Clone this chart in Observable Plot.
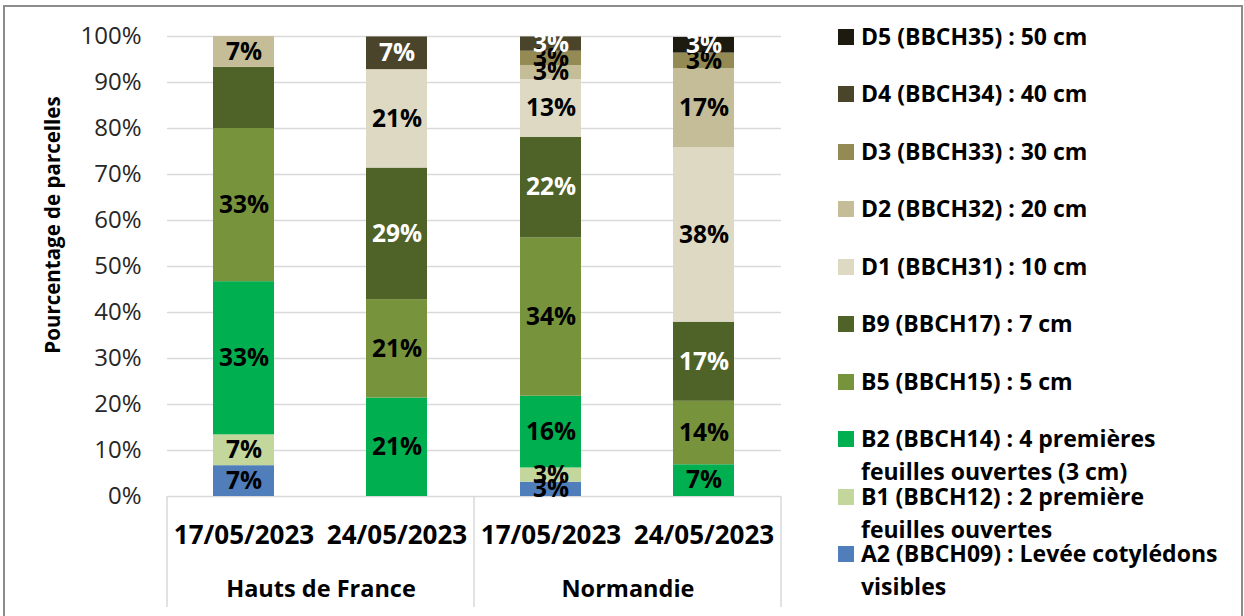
<!DOCTYPE html>
<html>
<head>
<meta charset="utf-8">
<script src="https://cdn.jsdelivr.net/npm/d3@7"></script>
<script src="https://cdn.jsdelivr.net/npm/@observablehq/plot@0.6"></script>
<style>
  html, body { margin: 0; padding: 0; background: #fff; overflow: hidden; }
  #wrap { position: relative; width: 1244px; height: 616px; font-family: "Open Sans", sans-serif; }
  #border { position: absolute; left: 3px; top: 5px; width: 1240px; height: 660px; border: 2px solid #8c8c8c; box-sizing: border-box; }
  #chart { position: absolute; left: 0; top: 0; }
  #ytitle { position: absolute; left: 52px; top: 225px; transform: translate(-50%, -50%) rotate(-90deg); white-space: nowrap; font-weight: bold; font-size: 20.5px; color: #000; }
  .item { position: absolute; left: 838px; line-height: 33px; font-weight: bold; font-size: 23px; color: #000; }
  .sw { position: absolute; left: 0; top: 9px; width: 16px; height: 16px; }
  .lab { position: absolute; left: 23px; top: 0; width: 364px; }
</style>
</head>
<body>
<div id="wrap">
  <div id="border"></div>
  <div id="chart"></div>
  <div id="ytitle"></div>
  <div id="legend"></div>
</div>
<script>
// ---- data ----
const regions = ["Hauts de France", "Hauts de France", "Normandie", "Normandie"];
const dates = ["17/05/2023", "24/05/2023", "17/05/2023", "24/05/2023"];
const regionOrder = ["Hauts de France", "Normandie"];
const dateOrder = ["17/05/2023", "24/05/2023"];

// stages, bottom to top
const stages = [
  "A2 (BBCH09) : Levée cotylédons visibles",
  "B1 (BBCH12) : 2 première feuilles ouvertes",
  "B2 (BBCH14) : 4 premières feuilles ouvertes (3 cm)",
  "B5 (BBCH15) : 5 cm",
  "B9 (BBCH17) : 7 cm",
  "D1 (BBCH31) : 10 cm",
  "D2 (BBCH32) : 20 cm",
  "D3 (BBCH33) : 30 cm",
  "D4 (BBCH34) : 40 cm",
  "D5 (BBCH35) : 50 cm"
];
const colors = ["#4f7ebb", "#c3d69b", "#00b050", "#77933c", "#4f6228", "#ddd9c3", "#c4bd97", "#948a54", "#4a452a", "#1d1b10"];
const whiteLabelStages = ["B9 (BBCH17) : 7 cm", "D4 (BBCH34) : 40 cm", "D5 (BBCH35) : 50 cm"];

// values (% of plots) per bar: HdF 17/05, HdF 24/05, Normandie 17/05, Normandie 24/05
const a2 = [6.7, 0, 3.1, 0];
const b1 = [6.7, 0, 3.1, 0];
const b2 = [33.3, 21.4, 15.6, 6.9];
const b5 = [33.3, 21.4, 34.4, 13.8];
const b9 = [13.3, 28.6, 21.9, 17.2];
const d1 = [0, 21.4, 12.5, 37.9];
const d2 = [6.7, 0, 3.1, 17.2];
const d3 = [0, 0, 3.1, 3.4];
const d4 = [0, 7.1, 3.1, 0];
const d5 = [0, 0, 0, 3.4];
const seriesValues = [a2, b1, b2, b5, b9, d1, d2, d3, d4, d5];

// segments without a data label in the original
const unlabelled = [["Hauts de France", "17/05/2023", "B9 (BBCH17) : 7 cm"]];

const yTicks = [0, 10, 20, 30, 40, 50, 60, 70, 80, 90, 100];
const yTitle = "Pourcentage de parcelles";

// ---- table ----
const rows = [];
stages.forEach((stage, s) => {
  seriesValues[s].forEach((v, i) => {
    const hidden = unlabelled.some(u => u[0] === regions[i] && u[1] === dates[i] && u[2] === stage);
    rows.push({
      region: regions[i], date: dates[i], stage, value: v,
      label: (v > 0 && !hidden) ? Math.round(v) + "%" : null
    });
  });
});

const stackOpts = (extra) => Plot.stackY({
  fx: "region", x: "date", y: "value", z: "stage", order: stages, ...extra
});

const chart = Plot.plot({
  width: 800,
  height: 616,
  marginLeft: 167,
  marginRight: 19,
  marginTop: 36,
  marginBottom: 120,
  style: { fontFamily: "Open Sans, sans-serif", color: "#262626", background: "transparent" },
  fx: { domain: regionOrder, padding: 0, label: null },
  x: { domain: dateOrder, paddingInner: 0.6, paddingOuter: 0.3, label: null },
  y: { domain: [0, 100], label: null },
  color: { domain: stages, range: colors },
  marks: [
    Plot.gridY({ ticks: yTicks, stroke: "#d9d9d9", strokeOpacity: 1, strokeWidth: 1.5 }),
    Plot.barY(rows, stackOpts({ fill: "stage" })),
    Plot.text(rows, stackOpts({
      text: d => whiteLabelStages.includes(d.stage) ? null : d.label,
      fill: "#000", fontSize: 24.5, fontWeight: "bold"
    })),
    Plot.text(rows, stackOpts({
      text: d => whiteLabelStages.includes(d.stage) ? d.label : null,
      fill: "#fff", fontSize: 24.5, fontWeight: "bold"
    })),
    Plot.axisY({ ticks: yTicks, tickFormat: d => d + "%", tickSize: 0, tickPadding: 26, fontSize: 24, label: null }),
    Plot.axisX({ tickSize: 0, tickPadding: 29, fontSize: 26, fontWeight: "bold", fill: "#000", label: null }),
    Plot.axisFx({ anchor: "bottom", tickSize: 0, tickPadding: 84, fontSize: 23.5, fontWeight: "bold", fill: "#000", label: null })
  ]
});

// category box separators, from the library's own scales
const fx = chart.scale("fx");
const y = chart.scale("y");
const y0 = y.apply(0);
const bounds = regionOrder.map(r => fx.apply(r)).concat([fx.apply(regionOrder[regionOrder.length - 1]) + fx.bandwidth]);
const NS = "http://www.w3.org/2000/svg";
const sepG = document.createElementNS(NS, "g");
bounds.forEach(bx => {
  const ln = document.createElementNS(NS, "line");
  ln.setAttribute("x1", bx); ln.setAttribute("x2", bx);
  ln.setAttribute("y1", y0); ln.setAttribute("y2", 607);
  ln.setAttribute("stroke", "#d9d9d9"); ln.setAttribute("stroke-width", 1.5);
  sepG.appendChild(ln);
});
chart.appendChild(sepG);

document.getElementById("chart").appendChild(chart);
document.getElementById("ytitle").textContent = yTitle;

// legend (top to bottom: reverse stack order)
const legend = document.getElementById("legend");
const legendStages = stages.slice().reverse();
legendStages.forEach((stage, i) => {
  const item = document.createElement("div");
  item.className = "item";
  item.style.top = (36 + i * 57.5 - 16.5) + "px";
  const sw = document.createElement("span");
  sw.className = "sw";
  sw.style.background = colors[stages.indexOf(stage)];
  const lab = document.createElement("div");
  lab.className = "lab";
  lab.textContent = stage;
  item.appendChild(sw);
  item.appendChild(lab);
  legend.appendChild(item);
});
</script>
</body>
</html>
